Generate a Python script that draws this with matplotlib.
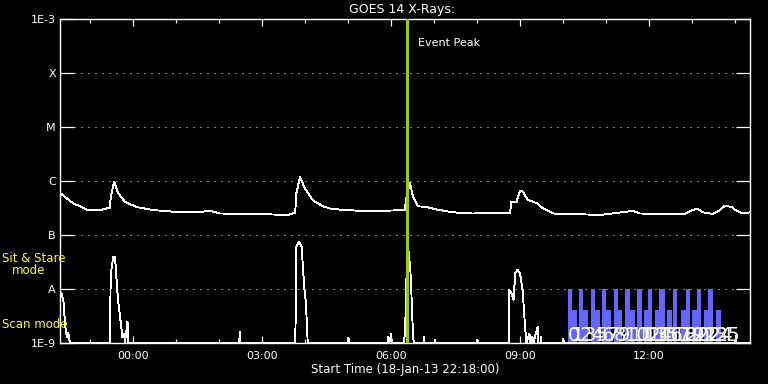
import matplotlib
matplotlib.use("Agg")
import matplotlib.pyplot as plt
from matplotlib.ticker import NullLocator

# hours since start (18-Jan-13 22:18:00)
flux_hours = [0, 0.30, 0.53, 0.65, 0.93, 1.16, 1.18, 1.26, 1.35, 1.51,
              1.78, 2.16, 2.63, 3.18, 3.49, 3.72, 4.57, 5.30, 5.47, 5.50,
              5.58, 5.70, 5.88, 6.12, 6.28, 6.51, 6.98, 7.51, 8.02, 8.06,
              8.14, 8.21, 8.33, 8.53, 8.72, 9.14, 9.60, 10.23, 10.47, 10.50,
              10.62, 10.70, 10.77, 10.88, 11.09, 11.24, 11.47, 11.94, 12.56, 12.83,
              13.33, 13.49, 14.11, 14.53, 14.65, 14.81, 14.96, 15.19, 15.35, 15.47,
              15.62, 15.74, 15.89, 16.05]
flux = [6.0e-7, 3.9e-7, 3.2e-7, 2.9e-7, 2.9e-7, 3.2e-7, 5.1e-7, 9.8e-7, 6.0e-7, 4.1e-7,
        3.3e-7, 2.9e-7, 2.7e-7, 2.63e-7, 2.8e-7, 2.5e-7, 2.45e-7, 2.35e-7, 2.6e-7, 6.0e-7,
        1.17e-6, 7.3e-7, 4.4e-7, 3.4e-7, 3.1e-7, 2.96e-7, 2.8e-7, 2.8e-7, 2.9e-7, 5.1e-7,
        9.3e-7, 5.1e-7, 3.4e-7, 3.3e-7, 3.0e-7, 2.63e-7, 2.5e-7, 2.6e-7, 2.6e-7, 4.1e-7,
        4.1e-7, 6.6e-7, 6.3e-7, 4.45e-7, 3.9e-7, 3.1e-7, 2.5e-7, 2.45e-7, 2.35e-7, 2.5e-7,
        2.8e-7, 2.5e-7, 2.45e-7, 2.45e-7, 2.75e-7, 3.1e-7, 2.63e-7, 2.45e-7, 2.9e-7, 3.5e-7,
        3.3e-7, 2.8e-7, 2.5e-7, 2.63e-7]

low_hours = [0.0, 0.03, 0.08, 0.12, 0.157, 0.19, 0.23,
             1.16, 1.18, 1.24, 1.28, 1.31, 1.35, 1.41, 1.45, 1.49, 1.51, 1.57, 1.59,
             4.17, 4.18, 4.19,
             5.47, 5.49, 5.50, 5.56, 5.62, 5.68, 5.72, 5.76, 5.78,
             6.70, 6.71, 6.72, 7.63, 7.64, 7.66, 7.70, 7.72,
             8.0, 8.03, 8.05, 8.11, 8.15, 8.18, 8.21, 8.23,
             8.46, 8.47, 8.48, 8.71, 8.72, 8.73, 9.70, 9.71, 9.72,
             10.44, 10.45, 10.51, 10.55, 10.59, 10.64, 10.67, 10.70, 10.76, 10.82, 10.85,
             10.92, 10.94, 10.99, 11.01, 11.11, 11.13, 11.18, 11.19, 11.20,
             11.70, 11.71, 11.72, 15.71, 15.72, 15.73, 16.05]
low_flux = [8.0e-9, 8.4e-9, 6.0e-9, 2.1e-9, 1.3e-9, 1.55e-9, 1e-9,
            1e-9, 1.9e-8, 4.0e-8, 4.0e-8, 1.7e-8, 6.25e-9, 2.5e-9, 1.3e-9, 1.5e-9, 1e-9, 2.5e-9, 1e-9,
            1e-9, 1.6e-9, 1e-9,
            1e-9, 6.3e-9, 6.1e-8, 7.5e-8, 6.1e-8, 1.1e-8, 5.5e-9, 1.1e-9, 1e-9,
            1e-9, 1.25e-9, 1e-9, 1e-9, 1.3e-9, 1e-9, 1.45e-9, 1e-9,
            1e-9, 1.7e-9, 1.28e-8, 4.9e-8, 2.25e-8, 6.3e-9, 1.5e-9, 1e-9,
            1e-9, 1.3e-9, 1e-9, 1e-9, 1.15e-9, 1e-9, 1e-9, 1.15e-9, 1e-9,
            1e-9, 9.6e-9, 8.1e-9, 6.3e-9, 1.95e-8, 2.3e-8, 2.1e-8, 1.95e-8, 9.6e-9, 1.9e-9, 1e-9,
            1.5e-9, 1e-9, 1.3e-9, 1e-9, 2.0e-9, 1e-9, 1e-9, 1.3e-9, 1e-9,
            1e-9, 1.2e-9, 1e-9, 1e-9, 1.35e-9, 1e-9, 1e-9]

# observation blocks: start (h), duration (h), mode
obs_start = [11.81, 11.91, 12.08, 12.17, 12.35, 12.45, 12.61, 12.71, 12.88, 12.98,
             13.15, 13.26, 13.41, 13.58, 13.68, 13.84, 13.94, 14.11, 14.26, 14.44,
             14.55, 14.71, 14.82, 14.98, 15.08, 15.26]
obs_dur = [0.10, 0.11, 0.09, 0.11, 0.10, 0.10, 0.10, 0.11, 0.10, 0.09,
           0.11, 0.11, 0.12, 0.10, 0.10, 0.10, 0.13, 0.12, 0.09, 0.12,
           0.10, 0.11, 0.10, 0.10, 0.12, 0.11]
obs_mode = ['sit', 'scan', 'sit', 'scan', 'sit', 'scan', 'sit', 'scan', 'sit', 'scan',
            'sit', 'scan', 'sit', 'scan', 'sit', 'scan', 'sit', 'scan', 'sit', 'scan',
            'sit', 'scan', 'sit', 'scan', 'sit', 'scan']
mode_level = {'sit': 1e-8, 'scan': 4.1e-9}

event_peak = 8.07
major_hours = [1.7, 4.7, 7.7, 10.7, 13.7]
major_labels = ['00:00', '03:00', '06:00', '09:00', '12:00']
minor_hours = [0.7, 2.7, 3.7, 5.7, 6.7, 8.7, 9.7, 11.7, 12.7, 14.7, 15.7]
levels = [1e-9, 1e-8, 1e-7, 1e-6, 1e-5, 1e-4, 1e-3]
level_labels = ['1E-9', 'A', 'B', 'C', 'M', 'X', '1E-3']

W, H = 768, 384
fig = plt.figure(figsize=(W / 100, H / 100), dpi=100, facecolor='black')
ax = fig.add_axes([60 / W, 41 / H, 690 / W, 324 / H])
ax.set_facecolor('black')
ax.set_yscale('log')
ax.set_ylim(1e-9, 1e-3)
ax.set_xlim(0, 16.05)

for s in ax.spines.values():
    s.set_color('white')
    s.set_linewidth(1.0)

for lv in levels[1:-1]:
    ax.axhline(lv, color='white', lw=0.72, linestyle=(0, (1, 6)), zorder=1)

heights = [mode_level[m] - 1e-9 for m in obs_mode]
ax.bar(obs_start, heights, width=obs_dur, bottom=1e-9, align='edge',
       color='#6464ff', linewidth=0, zorder=2)

ax.plot(flux_hours, flux, color='white', lw=0.65, antialiased=False, zorder=3)
ax.plot(low_hours, low_flux, color='white', lw=0.65, antialiased=False, zorder=3)

ax.axvline(event_peak, color='#99cc00', lw=2.2, zorder=4)
ax.annotate('Event Peak', xy=(event_peak, 1), xycoords=('data', 'axes fraction'),
            xytext=(8, -17), textcoords='offset points', color='white',
            fontsize=8, ha='left', va='center')

for i, (st, m) in enumerate(zip(obs_start, obs_mode)):
    ax.text(st, 0.006, str(i), transform=ax.get_xaxis_transform(), color='white',
            fontsize=14, family=['Liberation Sans Narrow', 'DejaVu Sans'],
            ha='left', va='baseline', zorder=5)

ax.set_yticks(levels, level_labels)
ax.yaxis.set_minor_locator(NullLocator())
ax.tick_params(axis='y', which='major', direction='in', length=10, width=0.9,
               colors='white', right=True, labelsize=8, pad=3)
ax.set_xticks(major_hours, major_labels)
ax.set_xticks(minor_hours, minor=True)
ax.tick_params(axis='x', which='major', direction='in', length=5, width=0.9,
               colors='white', top=True, labelsize=8, pad=6)
ax.tick_params(axis='x', which='minor', direction='in', length=3, width=0.9,
               colors='white', top=True)

fig.text(402 / W, 1 - 9.5 / H, 'GOES 14 X-Rays:', color='white', fontsize=9,
         ha='center', va='center')
fig.text(405 / W, 1 - 369 / H, 'Start Time (18-Jan-13 22:18:00)', color='white',
         fontsize=8.5, ha='center', va='center')
fig.text(2 / W, 1 - 259 / H, 'Sit & Stare', color='yellow', fontsize=8.5, ha='left', va='center')
fig.text(12 / W, 1 - 271 / H, 'mode', color='yellow', fontsize=8.5, ha='left', va='center')
fig.text(2 / W, 1 - 324 / H, 'Scan mode', color='yellow', fontsize=8.5, ha='left', va='center')

fig.savefig('out.png', dpi=100, facecolor='black')
